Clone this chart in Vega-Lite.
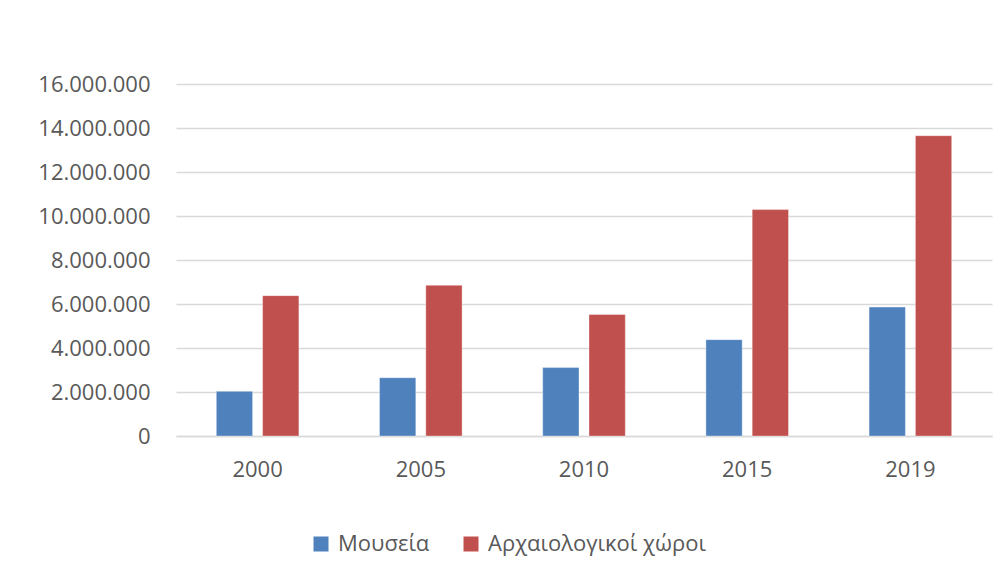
{
  "$schema": "https://vega.github.io/schema/vega-lite/v6.json",
  "width": 816,
  "height": 352,
  "autosize": {"type": "none"},
  "padding": {"left": 176, "top": 84, "right": 8, "bottom": 136},
  "background": "#ffffff",
  "config": {
    "locale": {"number": {"decimal": ",", "thousands": ".", "grouping": [3], "currency": ["", " €"]}},
    "view": {"stroke": null},
    "font": "Open Sans"
  },
  "data": {
    "values": [
      {"year": "2000", "type": "Μουσεία", "visitors": 2030000},
      {"year": "2000", "type": "Αρχαιολογικοί χώροι", "visitors": 6380000},
      {"year": "2005", "type": "Μουσεία", "visitors": 2650000},
      {"year": "2005", "type": "Αρχαιολογικοί χώροι", "visitors": 6850000},
      {"year": "2010", "type": "Μουσεία", "visitors": 3110000},
      {"year": "2010", "type": "Αρχαιολογικοί χώροι", "visitors": 5520000},
      {"year": "2015", "type": "Μουσεία", "visitors": 4380000},
      {"year": "2015", "type": "Αρχαιολογικοί χώροι", "visitors": 10290000},
      {"year": "2019", "type": "Μουσεία", "visitors": 5860000},
      {"year": "2019", "type": "Αρχαιολογικοί χώροι", "visitors": 13650000}
    ]
  },
  "mark": {"type": "bar", "stroke": "#ffffff", "strokeOpacity": 0.35, "strokeWidth": 1},
  "encoding": {
    "x": {
      "field": "year",
      "type": "nominal",
      "scale": {"paddingInner": 0.494, "paddingOuter": 0.247},
      "axis": {
        "title": null,
        "labelAngle": 0,
        "labelFontSize": 22,
        "labelColor": "#595959",
        "labelPadding": 23,
        "ticks": false,
        "domainColor": "#d9d9d9",
        "domainWidth": 1.5,
        "grid": false
      }
    },
    "xOffset": {
      "field": "type",
      "type": "nominal",
      "sort": ["Μουσεία", "Αρχαιολογικοί χώροι"],
      "scale": {"paddingInner": 0.216, "paddingOuter": 0}
    },
    "y": {
      "field": "visitors",
      "type": "quantitative",
      "scale": {"domain": [0, 16000000]},
      "axis": {
        "title": null,
        "values": [0, 2000000, 4000000, 6000000, 8000000, 10000000, 12000000, 14000000, 16000000],
        "format": ",d",
        "labelFontSize": 22,
        "labelColor": "#595959",
        "labelPadding": 26,
        "ticks": false,
        "domain": false,
        "gridColor": "#d9d9d9",
        "gridWidth": 1.5
      }
    },
    "color": {
      "field": "type",
      "type": "nominal",
      "sort": ["Μουσεία", "Αρχαιολογικοί χώροι"],
      "scale": {"domain": ["Μουσεία", "Αρχαιολογικοί χώροι"], "range": ["#4F81BD", "#C0504D"]},
      "legend": {
        "title": null,
        "orient": "none",
        "direction": "horizontal",
        "legendX": 134,
        "legendY": 449,
        "symbolType": "square",
        "symbolSize": 225,
        "symbolStrokeWidth": 0,
        "labelFontSize": 22,
        "labelColor": "#595959",
        "labelOffset": 6,
        "labelLimit": 400,
        "columnPadding": 30
      }
    }
  }
}
